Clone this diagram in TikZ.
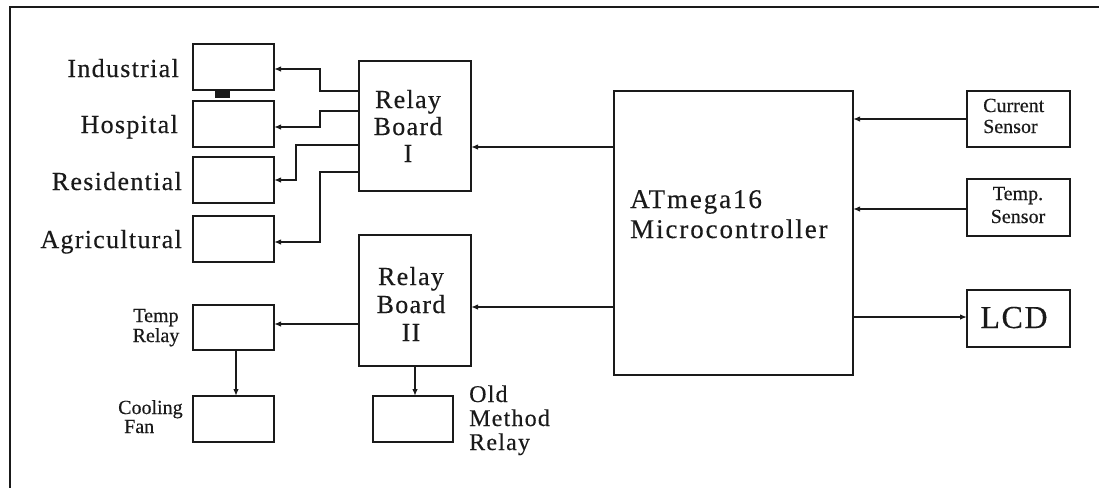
\documentclass[tikz,border=0pt]{standalone}
\usepackage{fontspec}
\setmainfont{Liberation Serif}
\newfontfamily\spacedfont{Liberation Serif}[LetterSpace=5,FakeBold=0.3]
\newfontfamily\mcufont{Liberation Serif}[LetterSpace=7,FakeBold=0.3]
\newfontfamily\tightfont{Liberation Serif}[FakeBold=0.5]
\usetikzlibrary{arrows.meta}
\definecolor{ink}{HTML}{1A1A1A}
\newcommand{\blk}[2]{\begin{tabular}[t]{@{}#1@{}}#2\end{tabular}}
\tikzset{
  box/.style={draw=ink, line width=2.2pt, inner sep=0pt, outer sep=0pt, fill=white},
  wire/.style={draw=ink, line width=1.8pt},
  arr/.style={wire, -{Latex[length=7pt,width=5.5pt]}},
  bigtxt/.style={inner sep=0pt, text=ink, font=\spacedfont\fontsize{26}{27}\selectfont},
  mcutxt/.style={inner sep=0pt, text=ink, font=\mcufont\fontsize{27}{30}\selectfont},
  smalltxt/.style={inner sep=0pt, text=ink, font=\tightfont\fontsize{20}{21}\selectfont},
  midtxt/.style={inner sep=0pt, text=ink, font=\spacedfont\fontsize{24}{24}\selectfont},
}
\begin{document}
\begin{tikzpicture}[x=1pt,y=-1pt]
\useasboundingbox (0,0) rectangle (1099,488);
\fill[white] (0,0) rectangle (1099,488);
% outer frame
\coordinate (frtl) at (10,7);
\coordinate (frtr) at (1099,7);
\coordinate (frbl) at (10,488);
\draw[ink, line width=2.2pt] (frtr) -- (frtl) -- (frbl);

% load boxes
\node[box, minimum width=81pt, minimum height=46pt] (ind) at (233.5,67) {};
\node[box, minimum width=81pt, minimum height=46pt] (hos) at (233.5,124) {};
\node[box, minimum width=81pt, minimum height=46pt] (res) at (233.5,180) {};
\node[box, minimum width=81pt, minimum height=46pt] (agr) at (233.5,239) {};
\node[fill=ink, minimum width=15pt, minimum height=9pt, inner sep=0pt] (blob) at (222.5,93.5) {};

\node[box, minimum width=112pt, minimum height=130pt] (rb1) at (415,126) {};
\node[box, minimum width=112pt, minimum height=131pt] (rb2) at (415,300.5) {};
\node[box, minimum width=81pt, minimum height=45pt] (trel) at (233.5,327.5) {};
\node[box, minimum width=81pt, minimum height=46pt] (fan) at (233.5,419) {};
\node[box, minimum width=80pt, minimum height=46pt] (old) at (413,419) {};
\node[box, minimum width=239pt, minimum height=284pt] (mcu) at (733.5,233) {};
\node[box, minimum width=103pt, minimum height=56pt] (cur) at (1018.5,119) {};
\node[box, minimum width=103pt, minimum height=57pt] (tmp) at (1018.5,207.5) {};
\node[box, minimum width=103pt, minimum height=57pt] (lcd) at (1018.5,318.5) {};

% labels
\node[bigtxt, anchor=base east] (lind) at (179,77) {Industrial};
\node[bigtxt, anchor=base east] (lhos) at (178,133) {Hospital};
\node[bigtxt, anchor=base east] (lres) at (182,190) {Residential};
\node[bigtxt, anchor=base east] (lagr) at (182,248) {Agricultural};
\node[bigtxt, anchor=base] (trb1) at (408,108) {\blk{c}{Relay\\Board\\I}};
\node[bigtxt, anchor=base] (trb2) at (411,285) {\fontsize{26}{28}\selectfont\blk{c}{Relay\\Board\\II}};
\node[mcutxt, anchor=base west] (tmcu) at (630,208) {\blk{l}{ATmega16\\Microcontroller}};
\node[smalltxt, anchor=base] (ltrel) at (156,322) {\fontsize{20}{20}\selectfont\blk{c}{Temp\\Relay}};
\node[smalltxt, anchor=base west] (lfan) at (118,414) {\fontsize{20}{19}\selectfont\blk{l}{Cooling\\\hspace{6pt}Fan}};
\node[smalltxt, anchor=base west] (tcur) at (983,112) {\blk{l}{Current\\Sensor}};
\node[smalltxt, anchor=base] (ttmp) at (1018,200) {\fontsize{20}{23}\selectfont\blk{c}{Temp.\\Sensor}};
\node[inner sep=0pt, text=ink, font=\spacedfont\fontsize{32}{32}\selectfont, anchor=base] (tlcd) at (1014,328) {LCD};
\node[midtxt, anchor=base west] (lold) at (469,402) {\blk{l}{Old\\Method\\Relay}};

% connectors relay board I -> loads
\draw[arr] (rb1.west |- 0,91) -- (320,91) -- (320,69) -- (ind.east |- 0,69);
\draw[arr] (rb1.west |- 0,111) -- (320,111) -- (320,127) -- (hos.east |- 0,127);
\draw[arr] (rb1.west |- 0,145) -- (296,145) -- (296,180) -- (res.east |- 0,180);
\draw[arr] (rb1.west |- 0,172) -- (320,172) -- (320,242) -- (agr.east |- 0,242);

% microcontroller -> relay boards
\draw[arr] (mcu.west |- 0,147) -- (rb1.east |- 0,147);
\draw[arr] (mcu.west |- 0,307) -- (rb2.east |- 0,307);

% relay board II
\draw[arr] (rb2.west |- 0,324) -- (trel.east |- 0,324);
\draw[arr] (rb2.south) -- (rb2.south |- old.north);
\draw[arr] (trel.south -| 236,0) -- (fan.north -| 236,0);

% sensors
\draw[arr] (cur.west) -- (mcu.east |- cur.west);
\draw[arr] (tmp.west |- 0,209) -- (mcu.east |- 0,209);
\draw[arr] (mcu.east |- 0,317) -- (lcd.west |- 0,317);
\end{tikzpicture}
\end{document}
